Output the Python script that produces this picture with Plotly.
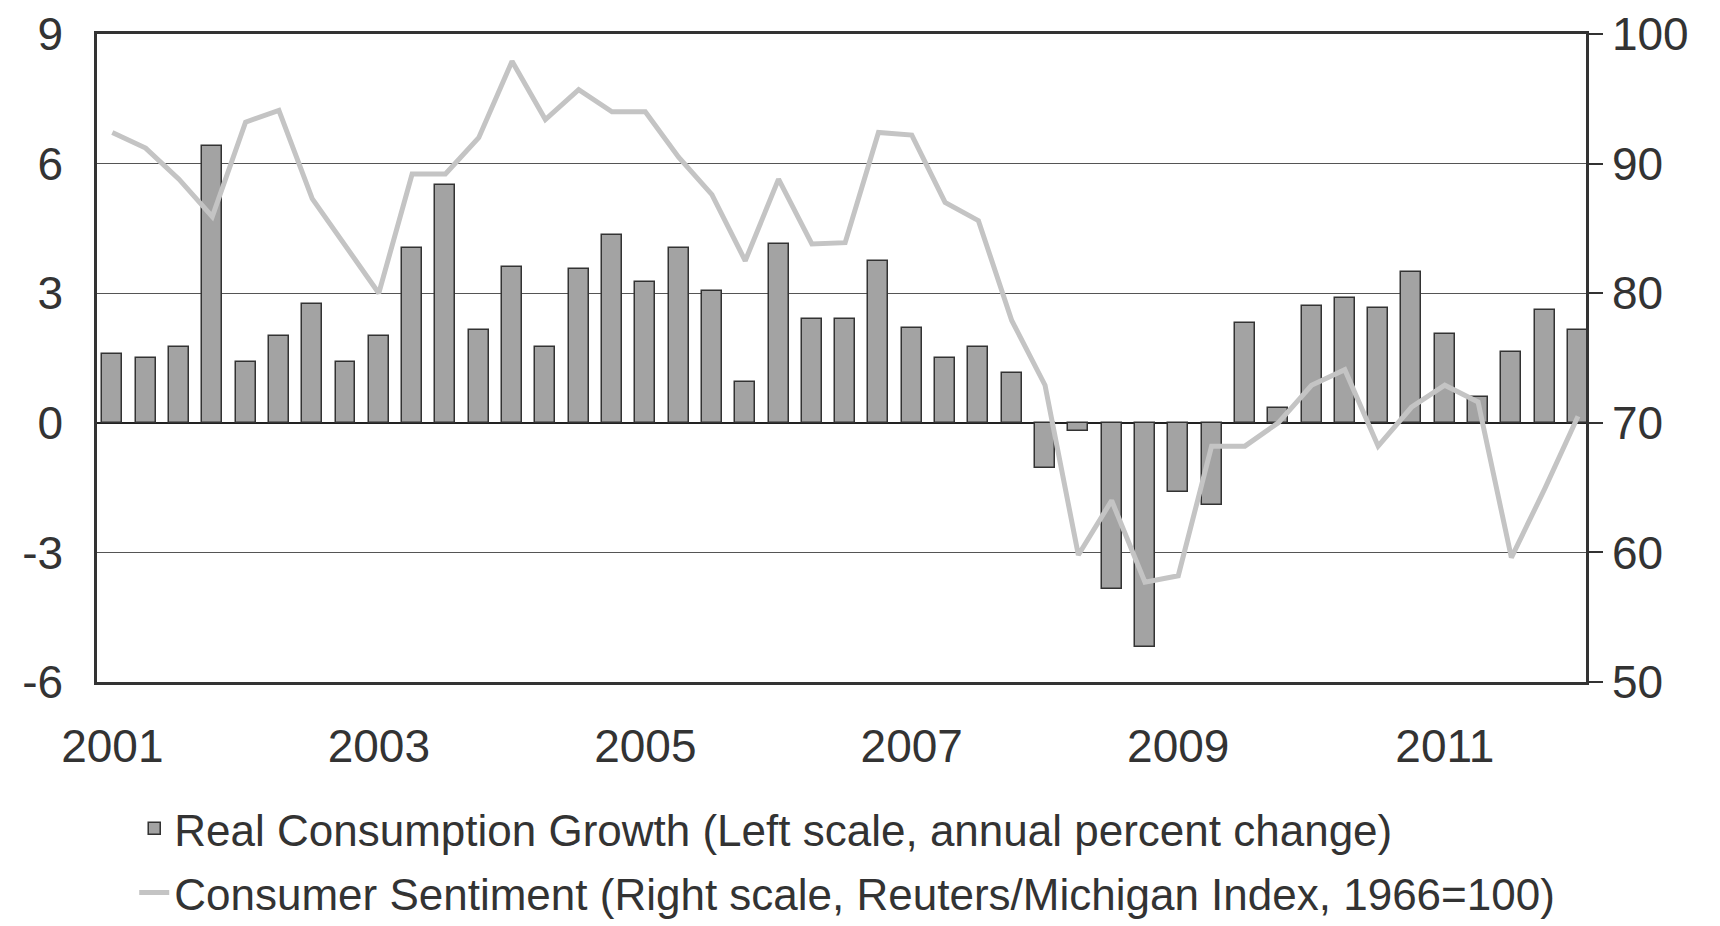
import plotly.graph_objects as go

quarters = [f"{y}Q{q}" for y in range(2001, 2013) for q in range(1, 5)][:45]
xpos = [int(s[:4]) + (int(s[-1]) - 1) / 4 for s in quarters]
growth = [1.6, 1.5, 1.75, 6.4, 1.4, 2.0, 2.75, 1.4, 2.0, 4.05, 5.5, 2.15,
          3.6, 1.75, 3.55, 4.35, 3.25, 4.05, 3.05, 0.95, 4.15, 2.4, 2.4, 3.75,
          2.2, 1.5, 1.75, 1.15, -1.05, -0.2, -3.85, -5.2, -1.6, -1.9, 2.3, 0.35,
          2.7, 2.9, 2.65, 3.5, 2.05, 0.6, 1.65, 2.6, 2.15]
sentiment = [92.4, 91.2, 88.8, 85.9, 93.2, 94.1, 87.3, 83.6, 80.0, 89.2, 89.2, 92.0,
             97.9, 93.4, 95.7, 94.0, 94.0, 90.5, 87.6, 82.5, 88.8, 83.8, 83.9, 92.4,
             92.2, 87.0, 85.6, 77.9, 72.9, 59.8, 64.0, 57.7, 58.2, 68.2, 68.2, 70.0,
             72.9, 74.1, 68.2, 71.2, 72.9, 71.6, 59.6, 64.9, 70.5]
year_ticks = [2001, 2003, 2005, 2007, 2009, 2011]
left_ticks = [-6, -3, 0, 3, 6, 9]
right_ticks = [50, 60, 70, 80, 90, 100]

fig = go.Figure()
fig.add_trace(go.Bar(x=xpos, y=growth, width=0.15, marker=dict(color="#a3a3a3", line=dict(color="#333333", width=1.5)),
                     name="Real Consumption Growth (Left scale, annual percent change)", legendgroup="a"))
fig.add_trace(go.Scatter(x=xpos, y=sentiment, yaxis="y2", mode="lines", line=dict(color="#c4c4c4", width=5),
                         name="Consumer Sentiment (Right scale, Reuters/Michigan Index, 1966=100)", legendgroup="b"))
font = dict(family="Liberation Sans, Arial", size=44, color="#333333")
fig.update_layout(
    width=1720, height=926, paper_bgcolor="white", plot_bgcolor="white", font=font,
    margin=dict(l=89, r=142, t=26, b=252, autoexpand=False), bargap=0,
    xaxis=dict(range=[2000.885, 2012.06], tickvals=year_ticks, ticktext=[str(y) for y in year_ticks],
               showgrid=False, zeroline=False, showline=True, linecolor="#333333", linewidth=2.5, mirror=True,
               ticks="", tickfont=dict(size=46), ticklabelstandoff=22),
    yaxis=dict(range=[-6, 9], tickvals=left_ticks, ticktext=[str(v) for v in left_ticks],
               showgrid=True, gridcolor="#555555", gridwidth=1,
               zeroline=True, zerolinecolor="#222222", zerolinewidth=2, showline=True, linecolor="#333333",
               linewidth=2.5, tickfont=dict(size=46), ticks="", ticklabelstandoff=22),
    yaxis2=dict(range=[50, 100], tickvals=right_ticks, overlaying="y", side="right",
                showgrid=False, zeroline=False, showline=True, linecolor="#333333", linewidth=2.5,
                ticks="outside", ticklen=14, tickwidth=1.5, tickcolor="#333333",
                tickfont=dict(size=46)),
    legend=dict(x=0.025, y=0.152, yref="container", xanchor="left", yanchor="top", font=dict(size=44),
                tracegroupgap=4, bgcolor="rgba(0,0,0,0)"),
    showlegend=True,
)
fig.write_html("out.html")
